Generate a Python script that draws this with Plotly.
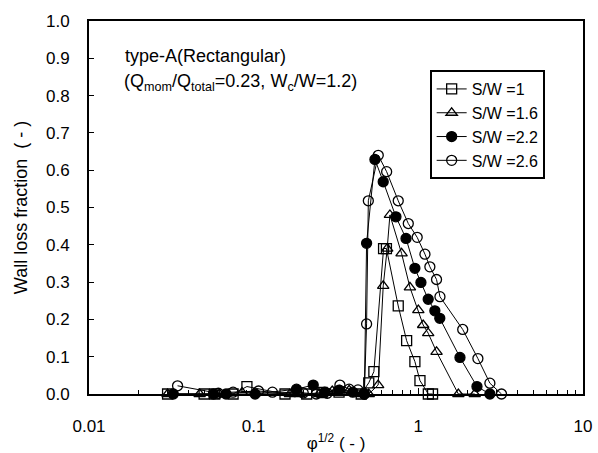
import plotly.graph_objects as go

# S/W = 1 (open squares)
x_sw1 = [0.030, 0.050, 0.058, 0.075, 0.091, 0.155, 0.21, 0.26, 0.33, 0.45,
         0.50, 0.537, 0.615, 0.64, 0.755, 0.849, 0.953, 1.023, 1.15, 1.22]
y_sw1 = [0.0, 0.0, 0.0, 0.0, 0.02, 0.0, 0.0, 0.004, 0.005, 0.0,
         0.03, 0.06, 0.39, 0.39, 0.236, 0.143, 0.087, 0.036, 0.0, 0.0]

# S/W = 1.6 (open triangles)
x_sw16 = [0.030, 0.047, 0.062, 0.085, 0.166, 0.19, 0.25, 0.30, 0.38, 0.45,
          0.50, 0.57, 0.612, 0.647, 0.672, 0.791, 0.889, 1.0, 1.07, 1.148,
          1.29, 1.75, 2.2]
y_sw16 = [0.0, 0.0, 0.0, 0.004, 0.0, 0.0, 0.0, 0.008, 0.01, 0.0,
          0.0, 0.024, 0.29, 0.39, 0.48, 0.377, 0.286, 0.225, 0.185, 0.163,
          0.113, 0.0, 0.0]

# S/W = 2.2 (filled circles)
x_sw22 = [0.0325, 0.057, 0.068, 0.102, 0.182, 0.23, 0.27, 0.33, 0.40, 0.47,
          0.485, 0.545, 0.612, 0.731, 0.842, 0.953, 1.037, 1.148, 1.26, 1.35,
          1.79, 2.27, 2.72]
y_sw22 = [0.0, 0.0, 0.0, 0.0, 0.013, 0.024, 0.005, 0.01, 0.005, 0.0,
          0.404, 0.629, 0.569, 0.475, 0.417, 0.337, 0.299, 0.254, 0.223, 0.203,
          0.098, 0.02, 0.0]

# S/W = 2.6 (open circles)
x_sw26 = [0.0345, 0.061, 0.075, 0.107, 0.13, 0.20, 0.24, 0.28, 0.334, 0.38,
          0.43, 0.47, 0.485, 0.497, 0.571, 0.642, 0.755, 0.869, 0.984, 1.097,
          1.175, 1.29, 1.353, 1.86, 2.3, 2.72, 3.2]
y_sw26 = [0.022, 0.002, 0.005, 0.008, 0.005, 0.003, 0.0, 0.002, 0.024, 0.013,
          0.011, 0.0, 0.188, 0.518, 0.64, 0.596, 0.518, 0.457, 0.42, 0.375,
          0.341, 0.307, 0.261, 0.173, 0.095, 0.029, 0.0]

series = [
    ("S/W =1", x_sw1, y_sw1, "square-open"),
    ("S/W =1.6", x_sw16, y_sw16, "triangle-up-open"),
    ("S/W =2.2", x_sw22, y_sw22, "circle"),
    ("S/W =2.6", x_sw26, y_sw26, "circle-open"),
]

x_ticks = [0.01, 0.1, 1, 10]
x_ticklabels = ["0.01", "0.1", "1", "10"]
y_ticks = [i / 10 for i in range(11)]

FONT = "Liberation Sans, Arial, sans-serif"

fig = go.Figure()
for name, xs, ys, sym in series:
    fig.add_trace(go.Scatter(
        x=xs, y=ys, name=name, mode="lines+markers",
        line=dict(color="black", width=1),
        marker=dict(symbol=sym, size=10, color="black",
                    line=dict(color="black", width=1.3)),
        cliponaxis=False,
    ))

minor_vals = [m * 10 ** e for e in (-2, -1, 0) for m in range(2, 10)]

fig.update_xaxes(
    type="log", range=[-2, 1], automargin=False,
    tickvals=x_ticks, ticktext=x_ticklabels,
    ticks="inside", ticklen=6, tickcolor="black",
    ticklabelstandoff=16,
    minor=dict(tickvals=minor_vals, ticks="inside", ticklen=4,
               tickcolor="black", showgrid=False),
    showline=True, linecolor="black", linewidth=1.8, mirror=True,
    showgrid=False, zeroline=False,
    tickfont=dict(family=FONT, size=17, color="black"),
    title=dict(text="φ<sup>1/2</sup> ( - )",
               font=dict(family=FONT, size=17, color="black"), standoff=2),
)
fig.update_yaxes(
    range=[0, 1.0], tickvals=y_ticks, tickformat=".1f", automargin=False,
    ticks="inside", ticklen=5, tickcolor="black",
    ticklabelstandoff=14,
    showline=True, linecolor="black", linewidth=1.8, mirror=True,
    showgrid=False, zeroline=False,
    tickfont=dict(family=FONT, size=17, color="black"),
    title=dict(text="Wall loss fraction  ( - )",
               font=dict(family=FONT, size=18, color="black"), standoff=14),
)

fig.add_annotation(
    xref="paper", yref="paper", x=0.068, y=0.905, xanchor="left", yanchor="middle",
    text="type-A(Rectangular)", showarrow=False,
    font=dict(family=FONT, size=18, color="black"),
)
fig.add_annotation(
    xref="paper", yref="paper", x=0.066, y=0.836, xanchor="left", yanchor="middle",
    text="(Q<sub>mom</sub>/Q<sub>total</sub>=0.23, W<sub>c</sub>/W=1.2)",
    showarrow=False,
    font=dict(family=FONT, size=18, color="black"),
)

fig.update_layout(
    width=598, height=453,
    margin=dict(l=89, r=15, t=21, b=59),
    paper_bgcolor="white", plot_bgcolor="white",
    showlegend=True,
    legend=dict(
        x=0.69, y=0.868, xanchor="left", yanchor="top",
        bgcolor="white", bordercolor="black", borderwidth=1.8,
        font=dict(family=FONT, size=16, color="black"),
        tracegroupgap=0, itemwidth=30,
    ),
)

fig.write_html("out.html")
